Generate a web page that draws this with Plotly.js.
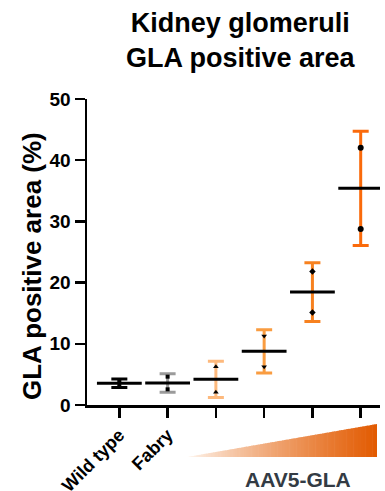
<!DOCTYPE html>
<html>
<head>
<meta charset="utf-8">
<script src="https://cdn.plot.ly/plotly-3.0.1.min.js"></script>
<style>html,body{margin:0;padding:0;background:#fff;}#chart{width:385px;height:491px;}</style>
</head>
<body>
<div id="chart"></div>
<script>
// ---- data ----
const groups = ["Wild type", "Fabry", "AAV5-GLA dose 1", "AAV5-GLA dose 2", "AAV5-GLA dose 3", "AAV5-GLA dose 4"];
const tickLabels = ["Wild type", "Fabry", "", "", "", ""];
const means = [3.55, 3.6, 4.19, 8.77, 18.45, 35.4];
const sds = [0.68, 1.5, 2.97, 3.54, 4.8, 9.35];
const pointsA = [4.03, 4.63, 6.26, 11.27, 21.8, 42.05];
const pointsB = [3.07, 2.56, 2.07, 6.26, 15.1, 28.76];
const groupColors = ['#000000', '#9b9b9b', '#fdb97d', '#f99c40', '#f7811f', '#fa6a0b'];
const pointSymbols = ['square', 'square', 'triangle-up', 'triangle-down', 'diamond', 'circle'];
const pointSizes = [4, 4, 5, 5, 5, 6];
const titleText = 'Kidney glomeruli<br>GLA positive area';
const yTitleText = 'GLA positive area (%)';
const bottomLabel = "AAV5-GLA";

const FONT = "Liberation Sans, Arial, Helvetica, sans-serif";
const traces = [];
groups.forEach((g, i) => {
  traces.push({
    x: [i], y: [means[i]], type: 'scatter', mode: 'markers',
    marker: {size: 1, color: 'rgba(0,0,0,0)'},
    error_y: {type: 'data', array: [sds[i]], visible: true, color: groupColors[i], thickness: 3, width: 8},
    hoverinfo: 'skip', showlegend: false
  });
});
groups.forEach((g, i) => {
  traces.push({
    x: [i, i], y: [pointsA[i], pointsB[i]], type: 'scatter', mode: 'markers',
    marker: {symbol: pointSymbols[i], size: pointSizes[i], color: '#000000'},
    showlegend: false, name: g
  });
});
traces.push({
  x: groups.map((g, i) => i), y: means, type: 'scatter', mode: 'markers',
  marker: {symbol: 'line-ew', size: 32, line: {width: 3, color: '#000000'}, color: '#000000'},
  showlegend: false, name: 'mean'
});

// gradient wedge (decoration) in paper coordinates
const L = 87, R = 380, T = 99, B = 405;
const px = v => (v - L) / (R - L);
const py = v => (B - v) / (B - T);
const wx0 = 187, wx1 = 377, wyb = 457, wyt = 424;
const c0 = [255, 250, 245], c1 = [226, 90, 0];
const shapes = [];
const N = 80;
for (let k = 0; k < N; k++) {
  const xa = wx0 + (wx1 - wx0) * k / N;
  const xb = wx0 + (wx1 - wx0) * (k + 1) / N + 0.6;
  const xbc = Math.min(xb, wx1);
  const ya = wyb - (wyb - wyt) * (xa - wx0) / (wx1 - wx0);
  const yb = wyb - (wyb - wyt) * (xbc - wx0) / (wx1 - wx0);
  const t = (k + 0.5) / N;
  const tt = Math.pow(t, 0.8);
  const col = c0.map((c, j) => Math.round(c + (c1[j] - c) * tt));
  shapes.push({
    type: 'path', xref: 'paper', yref: 'paper',
    path: `M${px(xa)},${py(wyb)} L${px(xbc)},${py(wyb)} L${px(xbc)},${py(yb)} L${px(xa)},${py(ya)} Z`,
    fillcolor: `rgb(${col.join(',')})`, line: {width: 0}
  });
}

const layout = {
  width: 385, height: 491,
  margin: {l: L, r: 385 - R, t: T, b: 491 - B, pad: 0},
  paper_bgcolor: '#ffffff', plot_bgcolor: '#ffffff',
  font: {family: FONT, color: '#000000'},
  xaxis: {
    range: [-0.67, 5.4], tickmode: 'array', tickvals: groups.map((g, i) => i), ticktext: tickLabels,
    showgrid: false, zeroline: false, showline: true, linewidth: 2.5, linecolor: '#000000',
    ticks: 'outside', ticklen: 10, tickwidth: 2.5, tickcolor: '#000000', tickangle: -45,
    tickfont: {family: FONT, size: 18, weight: 'bold', color: '#000000'}, fixedrange: true
  },
  yaxis: {
    range: [0, 50], tickvals: [0, 10, 20, 30, 40, 50],
    showgrid: false, zeroline: false, showline: true, linewidth: 2.5, linecolor: '#000000',
    ticks: 'outside', ticklen: 10, tickwidth: 2.5, tickcolor: '#000000',
    tickfont: {family: FONT, size: 19, weight: 'bold', color: '#000000'}, fixedrange: true
  },
  shapes: shapes,
  annotations: [
    {text: titleText, xref: 'paper', yref: 'paper', x: px(240.5), y: py(40),
     xanchor: 'center', yanchor: 'middle', showarrow: false,
     font: {family: FONT, size: 27, weight: 'bold', color: '#000000'}},
    {text: yTitleText, textangle: -90, xref: 'paper', yref: 'paper',
     x: px(32), y: py(266), xanchor: 'center', yanchor: 'middle', showarrow: false,
     font: {family: FONT, size: 26, weight: 'bold', color: '#000000'}},
    {text: bottomLabel, xref: 'paper', yref: 'paper', x: px(298), y: py(479),
     xanchor: 'center', yanchor: 'middle', showarrow: false,
     font: {family: FONT, size: 21, weight: 'bold', color: '#333b44'}}
  ],
  showlegend: false
};
Plotly.newPlot('chart', traces, layout, {displayModeBar: false, staticPlot: true});
</script>
</body>
</html>
